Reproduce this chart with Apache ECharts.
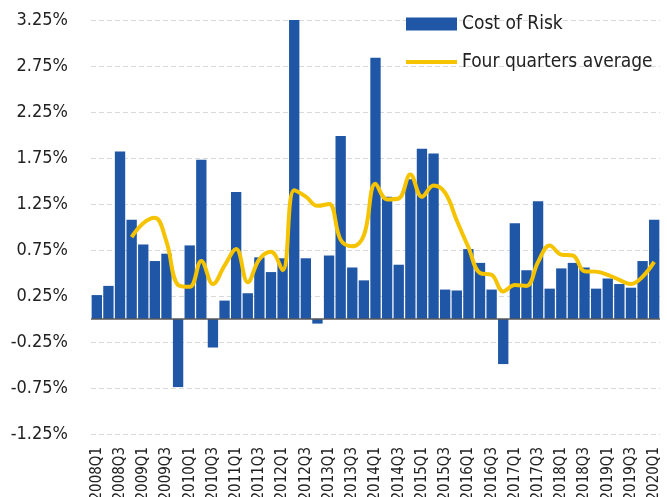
<!DOCTYPE html>
<html>
<head>
<meta charset="utf-8">
<script src="https://cdn.jsdelivr.net/npm/echarts@6/dist/echarts.min.js"></script>
<style>html,body{margin:0;padding:0;background:#fff;}#c{width:667px;height:497px;}</style>
</head>
<body>
<div id="c"></div>
<script>
var categories = [
  '2008Q1','2008Q2','2008Q3','2008Q4',
  '2009Q1','2009Q2','2009Q3','2009Q4',
  '2010Q1','2010Q2','2010Q3','2010Q4',
  '2011Q1','2011Q2','2011Q3','2011Q4',
  '2012Q1','2012Q2','2012Q3','2012Q4',
  '2013Q1','2013Q2','2013Q3','2013Q4',
  '2014Q1','2014Q2','2014Q3','2014Q4',
  '2015Q1','2015Q2','2015Q3','2015Q4',
  '2016Q1','2016Q2','2016Q3','2016Q4',
  '2017Q1','2017Q2','2017Q3','2017Q4',
  '2018Q1','2018Q2','2018Q3','2018Q4',
  '2019Q1','2019Q2','2019Q3','2019Q4',
  '2020Q1'
];
var costOfRisk = [
  0.26, 0.36, 1.82, 1.08,
  0.81, 0.63, 0.71, -0.74,
  0.80, 1.73, -0.31, 0.20,
  1.38, 0.28, 0.67, 0.51,
  0.66, 3.25, 0.66, -0.05,
  0.69, 1.99, 0.56, 0.42,
  2.84, 1.33, 0.59, 1.52,
  1.85, 1.80, 0.32, 0.31,
  0.76, 0.61, 0.32, -0.49,
  1.04, 0.53, 1.28, 0.33,
  0.55, 0.61, 0.56, 0.33,
  0.44, 0.38, 0.34, 0.63,
  1.08
];
var fourQuarterAvg = [
  null, null, null, 0.89,
  1.04, 1.10, 0.84, 0.37,
  0.35, 0.63, 0.38, 0.58,
  0.76, 0.40, 0.65, 0.73,
  0.53, 1.40, 1.33, 1.23,
  1.25, 0.86, 0.79, 0.91,
  1.47, 1.30, 1.31, 1.57,
  1.33, 1.45, 1.37, 1.07,
  0.78, 0.50, 0.48, 0.30,
  0.37, 0.36, 0.62, 0.80,
  0.70, 0.69, 0.52, 0.515,
  0.48, 0.425, 0.38, 0.46,
  0.62
];
var yTickMin = -1.25, yTickMax = 3.25, yTickStep = 0.5;

var FONT = "'DejaVu Sans Condensed', 'Liberation Sans Narrow', sans-serif";
var chart = echarts.init(document.getElementById('c'), null, {renderer: 'canvas'});
chart.setOption({
  animation: false,
  backgroundColor: '#ffffff',
  grid: {left: 91, right: 7, top: 20, bottom: 63, containLabel: false, outerBoundsMode: 'none'},
  legend: {
    orient: 'vertical',
    left: 401,
    top: 6,
    itemWidth: 51,
    itemHeight: 13,
    itemGap: 12,
    textStyle: {fontFamily: FONT, fontSize: 19, color: '#222222', lineHeight: 26},
    data: [
      {name: 'Cost of Risk', icon: 'rect'},
      {name: 'Four quarters average', icon: 'path://M0,0h52v4h-52z', itemStyle: {color: '#f5c300'}}
    ]
  },
  xAxis: {
    type: 'category',
    data: categories,
    axisLine: {show: false, onZero: false},
    axisTick: {show: false},
    axisLabel: {
      interval: 1,
      rotate: 90,
      margin: 13,
      fontFamily: FONT,
      fontSize: 15,
      color: '#222222'
    },
    splitLine: {show: false}
  },
  yAxis: {
    type: 'value',
    min: yTickMin,
    max: yTickMax,
    interval: yTickStep,
    axisLine: {show: false},
    axisTick: {show: false},
    axisLabel: {
      margin: 23,
      fontFamily: FONT,
      fontSize: 18,
      color: '#222222',
      formatter: function (v) { return v.toFixed(2) + '%'; }
    },
    splitLine: {show: true, lineStyle: {color: '#d9d9d9', type: [5, 3], width: 1}}
  },
  series: [
    {
      name: 'Cost of Risk',
      type: 'bar',
      data: costOfRisk,
      barCategoryGap: '11%',
      itemStyle: {color: '#1f56a6'},
      markLine: {
        silent: true,
        symbol: 'none',
        label: {show: false},
        lineStyle: {color: '#595959', type: 'solid', width: 1.5},
        data: [{yAxis: 0}]
      }
    },
    {
      name: 'Four quarters average',
      type: 'line',
      data: fourQuarterAvg,
      smooth: 0.4,
      symbol: 'none',
      connectNulls: false,
      lineStyle: {color: '#f5c300', width: 4},
      itemStyle: {color: '#f5c300'},
      z: 5
    }
  ]
});
</script>
</body>
</html>
